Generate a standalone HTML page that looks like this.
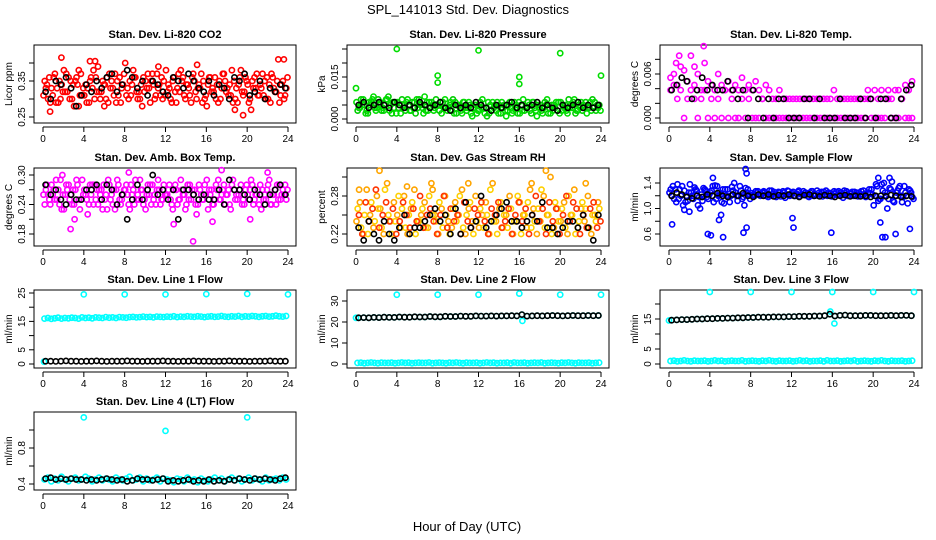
<!DOCTYPE html>
<html><head><meta charset="utf-8"><title>SPL_141013 Std. Dev. Diagnostics</title>
<style>
html,body{margin:0;padding:0;background:#fff;}
svg{display:block;font-family:"Liberation Sans",sans-serif;}
</style></head>
<body>
<svg id="chart" width="936" height="540" viewBox="0 0 936 540" xmlns="http://www.w3.org/2000/svg">
<text x="468" y="14" text-anchor="middle" font-size="13">SPL_141013  Std. Dev. Diagnostics</text>
<text x="467" y="531" text-anchor="middle" font-size="13">Hour of Day (UTC)</text>
</svg>
<script>
// ---------- data ----------
const xTicks=[0,4,8,12,16,20,24];
const panelTitles=["Stan. Dev. Li-820 CO2","Stan. Dev. Li-820 Pressure","Stan. Dev. Li-820 Temp.","Stan. Dev. Amb. Box Temp.","Stan. Dev. Gas Stream RH","Stan. Dev. Sample Flow","Stan. Dev. Line 1 Flow","Stan. Dev. Line 2 Flow","Stan. Dev. Line 3 Flow","Stan. Dev. Line 4 (LT) Flow"];
const yTitles=["Licor ppm","kPa","degrees C","degrees C","percent","ml/min","ml/min","ml/min","ml/min","ml/min"];
const yTickVals=[[0.25,0.30,0.35,0.40],[0,0.005,0.01,0.015,0.02,0.025],[0,0.002,0.004,0.006,0.008],[0.18,0.21,0.24,0.27,0.30],[0.22,0.25,0.28,0.31],[0.6,0.8,1.0,1.2,1.4],[0,5,10,15,20,25],[0,10,20,30],[0,5,10,15,20],[0.4,0.6,0.8,1.0]];
const yTickLabels=[["0.25","","0.35",""],["0.000","","","0.015","",""],["0.000","","","0.006",""],["0.18","","0.24","","0.30"],["0.22","","0.28",""],["0.6","","1.0","","1.4"],["0","5","","15","","25"],["0","10","20","30"],["0","5","","15",""],["0.4","","0.8",""]];

const co2Red1=[0.31,0.34,0.29,0.36,0.33,0.30,0.38,0.32,0.35,0.28,0.34,0.37,0.31,0.33,0.36,0.30,0.39,0.32,0.34,0.29,0.35,0.37,0.31,0.33,0.40,0.30,0.34,0.36,0.32,0.28,0.35,0.33,0.37,0.31,0.34,0.30,0.38,0.33,0.35,0.29,0.32,0.36,0.34,0.31,0.37,0.30,0.33,0.35,0.28,0.36,0.32,0.34,0.30,0.37,0.33,0.31,0.35,0.29,0.38,0.32,0.34,0.27,0.36,0.31,0.33,0.35,0.30,0.37,0.32,0.41,0.34,0.31];
const co2Red2=[0.35,0.30,0.33,0.37,0.29,0.34,0.32,0.36,0.30,0.35,0.38,0.31,0.34,0.29,0.33,0.36,0.32,0.35,0.30,0.37,0.33,0.29,0.36,0.34,0.31,0.35,0.38,0.32,0.30,0.36,0.33,0.29,0.34,0.37,0.31,0.35,0.32,0.30,0.36,0.33,0.38,0.31,0.34,0.29,0.35,0.33,0.37,0.30,0.34,0.32,0.36,0.29,0.33,0.35,0.31,0.38,0.30,0.34,0.32,0.36,0.29,0.35,0.33,0.31,0.37,0.30,0.34,0.36,0.32,0.29,0.35,0.33];
const co2Red3=[0.33,0.36,0.31,0.29,0.35,0.32,0.37,0.30,0.34,0.36,0.31,0.33,0.29,0.35,0.38,0.32,0.30,0.34,0.36,0.33,0.31,0.35,0.29,0.37,0.33,0.31,0.36,0.30,0.34,0.32,0.37,0.35,0.30,0.33,0.36,0.31,0.34,0.29,0.32,0.37,0.35,0.30,0.33,0.36,0.32,0.34,0.29,0.31,0.36,0.33,0.30,0.35,0.37,0.32,0.34,0.29,0.33,0.36,0.31,0.35,0.30,0.33,0.37,0.34,0.31,0.36,0.29,0.33,0.35,0.31,0.30,0.36];
const co2RedExtraHours=[1.8,4.6,5.1,19.6,23.6,0.7,18.8,3.5,6.0,11.3,15.1];
const co2RedExtraVals=[0.415,0.405,0.405,0.255,0.41,0.265,0.27,0.28,0.28,0.39,0.395];
const co2Black=[0.32,0.30,0.35,0.34,0.36,0.33,0.28,0.31,0.34,0.32,0.35,0.33,0.36,0.37,0.32,0.34,0.38,0.36,0.33,0.35,0.31,0.35,0.34,0.32,0.31,0.36,0.35,0.33,0.37,0.35,0.33,0.32,0.35,0.31,0.34,0.33,0.30,0.36,0.35,0.37,0.31,0.32,0.35,0.30,0.33,0.32,0.34,0.33];

const pressGreen1=[0.006,0.004,0.007,0.003,0.005,0.008,0.004,0.006,0.003,0.007,0.005,0.004,0.006,0.002,0.005,0.007,0.003,0.006,0.004,0.005,0.008,0.003,0.006,0.004,0.005,0.002,0.007,0.004,0.003,0.006,0.005,0.002,0.004,0.006,0.001,0.005,0.003,0.007,0.004,0.002,0.006,0.003,0.005,0.004,0.001,0.006,0.003,0.005,0.002,0.007,0.004,0.003,0.006,0.001,0.005,0.004,0.007,0.002,0.005,0.003,0.006,0.004,0.002,0.005,0.007,0.003,0.006,0.004,0.005,0.003,0.006,0.004];
const pressGreen2=[0.003,0.007,0.005,0.002,0.006,0.004,0.007,0.003,0.005,0.008,0.002,0.006,0.004,0.007,0.003,0.005,0.006,0.002,0.007,0.004,0.003,0.006,0.005,0.007,0.003,0.006,0.004,0.005,0.007,0.002,0.004,0.006,0.003,0.005,0.004,0.002,0.006,0.004,0.001,0.005,0.004,0.006,0.002,0.005,0.003,0.004,0.006,0.002,0.005,0.003,0.006,0.002,0.004,0.005,0.003,0.006,0.002,0.005,0.004,0.006,0.003,0.005,0.007,0.004,0.002,0.005,0.003,0.006,0.004,0.007,0.003,0.005];
const pressGreen3=[0.004,0.005,0.002,0.006,0.007,0.003,0.005,0.004,0.007,0.003,0.006,0.002,0.005,0.004,0.006,0.003,0.004,0.007,0.005,0.002,0.006,0.004,0.003,0.005,0.006,0.004,0.003,0.006,0.002,0.005,0.003,0.006,0.004,0.002,0.005,0.003,0.004,0.002,0.006,0.003,0.005,0.002,0.006,0.003,0.005,0.002,0.004,0.006,0.003,0.004,0.005,0.006,0.003,0.004,0.002,0.005,0.004,0.003,0.006,0.002,0.005,0.003,0.004,0.006,0.003,0.004,0.005,0.002,0.006,0.004,0.005,0.003];
const pressExtraHours=[4,12,20,8,8,16,16,0,24];
const pressExtraVals=[0.025,0.0245,0.0235,0.0155,0.013,0.015,0.0125,0.011,0.0155];
const pressBlack=[0.005,0.006,0.004,0.005,0.006,0.005,0.004,0.006,0.005,0.004,0.005,0.004,0.006,0.005,0.004,0.005,0.006,0.004,0.003,0.005,0.004,0.005,0.004,0.006,0.005,0.004,0.003,0.005,0.004,0.005,0.006,0.004,0.005,0.004,0.005,0.006,0.004,0.005,0.004,0.003,0.005,0.004,0.005,0.006,0.004,0.005,0.004,0.005];

const tempMagA=[0.0055,0.006,0.0045,0.007,0.0065,0.005,0.0085,0.0045,0.006,0.0038,0.0075,0.005,0.0045,0.0038,0.006,0.0045,0.0038,0.005,0.0038,0.0045,0.0038,0.0055,0.0038,0.0045,0.0038,0.005,0.0038,0.0026,0.0045,0.0038,0.0026,0.0026,0.0038,0.0026,0.0026,0.0026,0.0026,0.0026,0.0026,0.0026,0.0026,0.0026,0.0026,0.0026,0.0026,0.0026,0.0026,0.0026,0.0038,0.0026,0.0026,0.0026,0.0026,0.0026,0.0026,0.0026,0.0026,0.0026,0.0038,0.0026,0.0038,0.0026,0.0038,0.0026,0.0038,0.0026,0.0038,0.0038,0.0026,0.0045,0.0038,0.005];
const tempMagB=[0.0038,0.0045,0.0026,0.0038,0,0.0026,0.0038,0.0026,0,0.0026,0.0038,0,0.0026,0,0.0026,0,0.0038,0,0.0026,0,0,0.0026,0,0.0026,0,0,0,0.0026,0,0,0,0,0,0,0,0,0,0,0,0,0,0,0,0,0,0,0,0,0,0,0,0,0,0,0,0,0,0,0.0026,0,0,0,0,0,0.0026,0,0,0,0.0026,0,0,0];
const tempExtraHours=[1.0,3.4,2.5,0.7];
const tempExtraVals=[0.0085,0.0098,0.007,0.0075];
const tempBlack=[0.0038,0.0045,0.0055,0.005,0.0026,0.0038,0.0055,0.0038,0.0045,0.0038,0.0038,0.005,0.0038,0.0026,0.0038,0,0.0038,0.0026,0,0.0026,0,0.0026,0.0026,0,0,0,0.0026,0.0026,0,0.0026,0,0,0,0.0026,0,0,0,0.0026,0,0.0026,0,0.0026,0.0026,0,0,0.0026,0.0038,0.0045];

const boxMagA=[0.26,0.28,0.24,0.27,0.25,0.29,0.23,0.27,0.26,0.24,0.28,0.25,0.27,0.22,0.26,0.28,0.24,0.27,0.25,0.29,0.26,0.23,0.28,0.25,0.27,0.24,0.26,0.29,0.25,0.27,0.23,0.26,0.28,0.24,0.27,0.25,0.26,0.28,0.23,0.27,0.25,0.26,0.24,0.28,0.26,0.22,0.27,0.25,0.29,0.26,0.24,0.27,0.25,0.28,0.26,0.23,0.27,0.25,0.28,0.24,0.26,0.29,0.25,0.27,0.23,0.26,0.28,0.24,0.27,0.25,0.26,0.28];
const boxMagB=[0.24,0.26,0.28,0.25,0.27,0.23,0.26,0.28,0.24,0.27,0.25,0.29,0.26,0.24,0.28,0.25,0.27,0.23,0.26,0.28,0.24,0.27,0.25,0.26,0.28,0.23,0.27,0.25,0.29,0.24,0.26,0.28,0.25,0.27,0.24,0.28,0.26,0.25,0.27,0.24,0.29,0.26,0.28,0.25,0.27,0.24,0.26,0.28,0.23,0.27,0.25,0.29,0.26,0.24,0.27,0.28,0.25,0.26,0.24,0.27,0.25,0.28,0.26,0.24,0.27,0.25,0.29,0.26,0.24,0.28,0.27,0.25];
const boxMag3=[0.27,0.25,0.26,0.29,0.24,0.26,0.28,0.25,0.27,0.29,0.23,0.26,0.25,0.28,0.24,0.27,0.26,0.28,0.23,0.25,0.27,0.29,0.24,0.27,0.26,0.28,0.24,0.26,0.27,0.25,0.28,0.24,0.26,0.29,0.25,0.26,0.27,0.24,0.28,0.25,0.27,0.23,0.25,0.27,0.24,0.28,0.25,0.26,0.27,0.24,0.28,0.25,0.27,0.26,0.24,0.29,0.26,0.27,0.25,0.28,0.27,0.24,0.26,0.28,0.25,0.27,0.24,0.26,0.28,0.25,0.26,0.27];
const boxExtraHours=[2.7,14.7,17.5,20.3,8.4,22.0,1.9,12.8,3.1,16.6];
const boxExtraVals=[0.19,0.165,0.31,0.21,0.305,0.305,0.30,0.20,0.21,0.205];
const boxBlack=[0.28,0.26,0.27,0.25,0.24,0.26,0.25,0.25,0.27,0.27,0.28,0.25,0.28,0.27,0.24,0.26,0.21,0.25,0.28,0.25,0.27,0.30,0.26,0.27,0.25,0.27,0.21,0.27,0.27,0.26,0.25,0.26,0.25,0.25,0.27,0.24,0.29,0.27,0.27,0.26,0.25,0.27,0.26,0.24,0.26,0.27,0.28,0.26];

const rhOrangeA=[0.24,0.27,0.22,0.29,0.25,0.23,0.28,0.26,0.22,0.30,0.24,0.27,0.25,0.23,0.28,0.22,0.26,0.29,0.24,0.25,0.27,0.23,0.30,0.25,0.22,0.26,0.28,0.24,0.23,0.27,0.25,0.29,0.22,0.26,0.24,0.28,0.23,0.25,0.27,0.22,0.30,0.24,0.26,0.23,0.25,0.28,0.22,0.24,0.27,0.25,0.23,0.29,0.26,0.22,0.24,0.28,0.25,0.31,0.23,0.26,0.24,0.27,0.22,0.25,0.29,0.23,0.26,0.24,0.28,0.22,0.25,0.27];
const rhOrangeB=[0.26,0.23,0.25,0.22,0.27,0.24,0.26,0.23,0.29,0.25,0.22,0.24,0.28,0.26,0.23,0.25,0.27,0.22,0.24,0.26,0.23,0.28,0.25,0.24,0.27,0.23,0.25,0.22,0.26,0.24,0.28,0.23,0.25,0.27,0.22,0.24,0.26,0.23,0.25,0.29,0.24,0.22,0.27,0.25,0.23,0.26,0.24,0.28,0.22,0.25,0.27,0.23,0.24,0.26,0.29,0.23,0.25,0.22,0.27,0.24,0.26,0.23,0.28,0.25,0.22,0.24,0.27,0.26,0.23,0.25,0.24,0.26];
const rhOrange3=[0.25,0.22,0.27,0.24,0.26,0.29,0.23,0.25,0.27,0.24,0.26,0.22,0.24,0.27,0.25,0.23,0.26,0.24,0.28,0.23,0.25,0.26,0.24,0.22,0.25,0.28,0.23,0.26,0.24,0.25,0.22,0.27,0.24,0.23,0.26,0.25,0.27,0.24,0.22,0.26,0.25,0.27,0.23,0.24,0.26,0.22,0.25,0.27,0.24,0.26,0.22,0.25,0.28,0.24,0.26,0.22,0.27,0.24,0.26,0.22,0.25,0.28,0.24,0.27,0.26,0.22,0.25,0.23,0.26,0.27,0.23,0.24];
const rhExtraHours=[2.3,18.6,0.3,11.0,17.2,5.0,7.5,22.5];
const rhExtraVals=[0.32,0.32,0.29,0.30,0.30,0.295,0.29,0.30];
const rhBlack=[0.23,0.21,0.24,0.22,0.21,0.24,0.22,0.21,0.23,0.25,0.22,0.23,0.23,0.24,0.25,0.26,0.24,0.25,0.22,0.26,0.22,0.27,0.23,0.24,0.28,0.23,0.24,0.25,0.26,0.27,0.24,0.24,0.23,0.24,0.25,0.24,0.27,0.23,0.23,0.22,0.23,0.24,0.24,0.23,0.25,0.23,0.21,0.25];

const flowBlueA=[1.25,1.35,1.1,1.3,1.05,1.2,1.38,1.15,1.28,1.0,1.32,1.18,1.25,1.1,1.35,1.22,1.08,1.3,1.2,1.4,1.12,1.28,1.05,1.3,1.24,1.2,1.27,1.22,1.25,1.18,1.28,1.2,1.26,1.22,1.17,1.27,1.24,1.2,1.28,1.22,1.25,1.18,1.27,1.21,1.25,1.19,1.28,1.23,1.2,1.26,1.22,1.17,1.27,1.24,1.2,1.25,1.22,1.28,1.19,1.24,1.05,1.35,1.15,1.4,1.0,1.3,1.1,1.28,1.2,1.35,1.08,1.25];
const flowBlueB=[1.3,1.15,1.38,1.2,1.28,1.12,1.25,1.33,1.05,1.22,1.3,1.15,1.28,1.36,1.2,1.1,1.3,1.18,1.34,1.25,1.2,1.15,1.32,1.22,1.2,1.27,1.22,1.25,1.2,1.28,1.23,1.18,1.25,1.27,1.22,1.2,1.26,1.23,1.19,1.27,1.22,1.25,1.2,1.28,1.22,1.26,1.2,1.24,1.27,1.21,1.25,1.28,1.2,1.23,1.26,1.19,1.27,1.23,1.25,1.3,1.2,1.12,1.38,1.25,1.15,1.42,1.2,1.32,1.1,1.25,1.3,1.18];
const flowBlue3=[1.2,1.3,1.15,1.35,1.1,1.25,1.2,1.3,1.18,1.12,1.28,1.22,1.35,1.15,1.25,1.3,1.2,1.1,1.28,1.2,1.35,1.18,1.25,1.15,1.22,1.25,1.2,1.27,1.23,1.2,1.26,1.22,1.19,1.25,1.28,1.22,1.2,1.26,1.22,1.24,1.19,1.27,1.23,1.2,1.26,1.22,1.25,1.19,1.23,1.27,1.21,1.24,1.2,1.26,1.22,1.25,1.2,1.18,1.3,1.22,1.38,1.15,1.28,1.2,1.32,1.12,1.25,1.35,1.18,1.2,1.28,1.15];
const flowExtraHours=[0.3,3.8,4.1,5.3,7.3,7.6,7.6,7.5,12.2,12.1,15.9,20.9,21.2,22.2,23.6,20.7,5.1,4.9,4.3,20.5,21.6,2.0,1.5];
const flowExtraVals=[0.75,0.6,0.58,0.55,0.62,0.7,1.55,1.62,0.7,0.85,0.62,0.55,0.55,0.6,0.68,0.78,0.9,0.82,1.48,1.48,1.48,0.95,0.98];
const flowBlack=[1.2,1.25,1.22,1.18,1.16,1.2,1.18,1.22,1.2,1.24,1.2,1.18,1.22,1.2,1.24,1.2,1.18,1.22,1.2,1.22,1.19,1.21,1.2,1.22,1.2,1.18,1.21,1.22,1.2,1.19,1.21,1.2,1.18,1.2,1.21,1.19,1.2,1.19,1.2,1.18,1.2,1.2,1.19,1.21,1.2,1.18,1.2,1.19];

const line1Cyan=[16.0,16.2,15.9,16.1,16.3,16.0,16.2,16.1,16.3,16.2,16.0,16.4,16.2,16.3,16.1,16.4,16.3,16.2,16.5,16.3,16.4,16.2,16.5,16.4,16.3,16.5,16.6,16.4,16.5,16.7,16.5,16.6,16.4,16.7,16.6,16.5,16.7,16.6,16.8,16.5,16.7,16.6,16.8,16.7,16.6,16.8,16.7,16.5,16.7,16.8,16.6,16.7,16.9,16.7,16.6,16.8,16.7,16.9,16.6,16.8,16.7,16.9,16.8,16.6,16.8,16.9,16.7,16.8,17.0,16.8,16.7,16.9];
const line1ExtraHours=[0.1,4,8,12,16,20,24];
const line1ExtraVals=[0.8,24.5,24.5,24.5,24.6,24.7,24.5];
const line1Black=[1.0,1.0,0.9,1.0,1.1,1.0,1.0,0.9,1.0,1.0,1.1,1.0,0.9,1.0,1.0,1.0,1.1,1.0,1.0,0.9,1.0,1.0,1.0,1.1,1.0,1.0,0.9,1.0,1.0,1.1,1.0,1.0,1.0,0.9,1.0,1.0,1.1,1.0,1.0,1.0,0.9,1.0,1.0,1.0,1.1,1.0,1.0,1.0];

const line2Cyan=[0.5,0.6,0.4,0.5,0.7,0.5,0.4,0.6,0.5,0.5,0.6,0.4,0.5,0.7,0.5,0.6,0.4,0.5,0.6,0.5,0.5,0.7,0.4,0.5,0.6,0.5,0.4,0.6,0.5,0.7,0.5,0.4,0.6,0.5,0.5,0.6,0.4,0.5,0.7,0.5,0.6,0.4,0.5,0.5,0.6,0.4,0.7,0.5,0.5,0.6,0.4,0.5,0.6,0.5,0.7,0.4,0.5,0.6,0.5,0.4,0.6,0.5,0.7,0.5,0.4,0.6,0.5,0.5,0.6,0.4,0.5,0.6];
const line2ExtraHours=[0.0,4,8,12,16,20,24,16.3];
const line2ExtraVals=[22.0,33,33,33,33.5,33,33,20.5];
const line2Black=[22.0,22.1,22.0,22.2,22.1,22.3,22.2,22.2,22.4,22.3,22.3,22.5,22.4,22.4,22.6,22.5,22.5,22.7,22.6,22.6,22.8,22.7,22.7,22.9,22.8,22.8,22.9,22.8,22.9,22.9,23.0,22.9,23.5,22.8,22.9,23.0,22.9,23.0,23.1,23.0,22.9,23.0,23.1,23.0,23.0,23.1,23.0,23.1];

const line3Cyan=[1.0,1.1,0.9,1.0,1.2,1.0,0.9,1.1,1.0,1.0,1.1,0.9,1.0,1.2,1.0,1.1,0.9,1.0,1.1,1.0,1.0,1.2,0.9,1.0,1.1,1.0,0.9,1.1,1.0,1.2,1.0,0.9,1.1,1.0,1.0,1.1,0.9,1.0,1.2,1.0,1.1,0.9,1.0,1.0,1.1,0.9,1.2,1.0,1.0,1.1,0.9,1.0,1.1,1.0,1.2,0.9,1.0,1.1,1.0,0.9,1.1,1.0,1.2,1.0,0.9,1.1,1.0,1.0,1.1,0.9,1.0,1.1];
const line3ExtraHours=[0.0,4,8,12,16,20,24,15.8,16.2];
const line3ExtraVals=[14.5,24,24,24,24,24,24,17.5,13.5];
const line3Black=[14.6,14.7,14.8,14.8,14.9,15.0,15.0,15.1,15.1,15.2,15.2,15.3,15.3,15.4,15.4,15.5,15.5,15.6,15.6,15.6,15.7,15.7,15.7,15.8,15.8,15.9,15.9,15.9,16.0,16.0,16.1,16.6,16.0,16.2,16.3,16.1,16.1,16.1,16.2,16.2,16.1,16.1,16.1,16.2,16.1,16.2,16.2,16.1];

const line4Cyan=[0.45,0.47,0.43,0.46,0.44,0.48,0.45,0.43,0.46,0.47,0.44,0.45,0.48,0.46,0.43,0.45,0.47,0.44,0.46,0.45,0.43,0.47,0.45,0.44,0.46,0.48,0.44,0.45,0.47,0.43,0.46,0.44,0.45,0.47,0.43,0.46,0.45,0.44,0.42,0.46,0.45,0.43,0.47,0.44,0.45,0.42,0.46,0.44,0.43,0.45,0.47,0.44,0.46,0.43,0.45,0.47,0.44,0.46,0.43,0.45,0.47,0.44,0.46,0.45,0.43,0.47,0.44,0.45,0.46,0.44,0.47,0.45];
const line4ExtraHours=[4,12,20];
const line4ExtraVals=[1.14,0.99,1.14];
const line4Black=[0.46,0.47,0.45,0.46,0.45,0.46,0.45,0.45,0.44,0.45,0.44,0.45,0.46,0.45,0.44,0.45,0.43,0.44,0.46,0.45,0.45,0.44,0.45,0.46,0.43,0.44,0.43,0.44,0.45,0.43,0.44,0.43,0.45,0.43,0.44,0.43,0.45,0.44,0.46,0.45,0.44,0.46,0.45,0.46,0.45,0.44,0.46,0.47];

// ---------- layout ----------
const colLeft=[34,347,660], boxW=262;
const rowTop=[45,168,290,412], boxH=78;
const cal=[[0.25,117,0.35,81],[0,119,0.015,77],[0,118,0.006,74],[0.18,234,0.30,175],[0.22,234,0.28,196],[0.6,234,1.4,183],[0,364,25,293],[0,364,30,301],[0,364,15,319],[0.4,484,0.8,448]];
const NS="http://www.w3.org/2000/svg";
const svg=document.getElementById('chart');
function mk(tag,attrs,parent){const e=document.createElementNS(NS,tag);for(const k in attrs)e.setAttribute(k,attrs[k]);(parent||svg).appendChild(e);return e;}

// [values, colour, count, x-offset within 20-min slot]
const panelSeries=[
 [[co2Red1,'#ff0000',72,0.05],[co2Red2,'#ff0000',72,0.17],[co2Red3,'#ff0000',72,0.28],[[co2RedExtraHours,co2RedExtraVals],'#ff0000'],[co2Black,'#000',48]],
 [[pressGreen1,'#00dd00',72,0.05],[pressGreen2,'#00cc00',72,0.17],[pressGreen3,'#00dd00',72,0.28],[[pressExtraHours,pressExtraVals],'#00dd00'],[pressBlack,'#000',48]],
 [[tempMagA,'#ff00ff',72,0.15],[tempMagB,'#ff00ff',72,0.15],[[tempExtraHours,tempExtraVals],'#ff00ff'],[tempBlack,'#000',48]],
 [[boxMagA,'#ff00ff',72,0.05],[boxMagB,'#ff00ff',72,0.17],[boxMag3,'#ff00ff',72,0.28],[[boxExtraHours,boxExtraVals],'#ff00ff'],[boxBlack,'#000',48]],
 [[rhOrangeA,'#ffa500',72,0.05],[rhOrangeB,'#ffd000',72,0.17],[rhOrange3,'#ff3300',72,0.28],[[rhExtraHours,rhExtraVals],'#ffa500'],[rhBlack,'#000',48]],
 [[flowBlueA,'#0000ff',72,0.05],[flowBlueB,'#0000ee',72,0.17],[flowBlue3,'#0000ff',72,0.28],[[flowExtraHours,flowExtraVals],'#0000ff'],[flowBlack,'#000',48]],
 [[line1Cyan,'#00ffff',72,0.15],[[line1ExtraHours,line1ExtraVals],'#00ffff'],[line1Black,'#000',48]],
 [[line2Cyan,'#00ffff',72,0.15],[line2Black,'#00ffff',48],[[line2ExtraHours,line2ExtraVals],'#00ffff'],[line2Black,'#000',48]],
 [[line3Cyan,'#00ffff',72,0.15],[line3Black,'#00ffff',48],[[line3ExtraHours,line3ExtraVals],'#00ffff'],[line3Black,'#000',48]],
 [[line4Cyan,'#00ffff',72,0.15],[[line4ExtraHours,line4ExtraVals],'#00ffff'],[line4Black,'#000',48]]
];

for(let p=0;p<10;p++){
  const col=p%3,row=Math.floor(p/3);
  const L=colLeft[col],T=rowTop[row],B=T+boxH,R=L+boxW;
  const x0=L+9,x24=R-8;
  const xs=h=>x0+h*(x24-x0)/24;
  const c=cal[p];
  const ys=v=>c[1]+(v-c[0])*(c[3]-c[1])/(c[2]-c[0]);
  const g=mk('g',{});
  
  
  const t=mk('text',{x:(L+R)/2,y:T-7,'text-anchor':'middle','font-size':'11','font-weight':'bold'},g);
  t.textContent=panelTitles[p];
  
  
  const box=mk('rect',{x:L,y:T,width:boxW,height:boxH,fill:'none',stroke:'#000','stroke-width':1},g);
  
  
  const xa=mk('g',{},g);
  
  
  mk('line',{x1:xs(0),x2:xs(24),y1:B+4,y2:B+4,stroke:'#000'},xa);
  xTicks.forEach(h=>{
    mk('line',{x1:xs(h),x2:xs(h),y1:B+4,y2:B+9,stroke:'#000'},xa);
    const lt=mk('text',{x:xs(h),y:B+19,'text-anchor':'middle','font-size':'10'},xa);
    lt.textContent=h;
    
    
  });
  const ya=mk('g',{},g);
  
  
  const tv=yTickVals[p];
  const tvIn=tv.filter(v=>ys(v)>=T-2&&ys(v)<=B+2);
  mk('line',{x1:L,x2:L,y1:ys(tvIn[0]),y2:ys(tvIn[tvIn.length-1]),stroke:'#000'},ya);
  tv.forEach((v,i)=>{
    const y=ys(v); if(y<T-2||y>B+2) return;
    mk('line',{x1:L-5,x2:L,y1:y,y2:y,stroke:'#000'},ya);
    if(yTickLabels[p][i]){
      const yl=mk('text',{x:L-9,y:y,'text-anchor':'middle','font-size':'10',transform:`rotate(-90 ${L-9} ${y})`},ya);
      yl.textContent=yTickLabels[p][i];
      
      
    }
  });
  const yt=mk('text',{x:L-22,y:(T+B)/2,'text-anchor':'middle','font-size':'10',transform:`rotate(-90 ${L-22} ${(T+B)/2})`},g);
  yt.textContent=yTitles[p];
  
  
  panelSeries[p].forEach((s,si)=>{
    const sg=mk('g',{fill:'none',stroke:s[1],'stroke-width':1.6},g);
    
    
    let pts=[];
    if(Array.isArray(s[0][0])){ s[0][0].forEach((h,i)=>pts.push([h,s[0][1][i]])); }
    else { const n=s[2], off=(s[3]===undefined?0.15:s[3]); s[0].forEach((v,i)=>pts.push([n===72?i/3+off:i/2+0.25,v])); }
    pts.forEach(pt=>{
      const ci=mk('circle',{cx:xs(pt[0]).toFixed(1),cy:ys(pt[1]).toFixed(1),r:2.6},sg);
      
      
    });
  });
}
</script>
</body></html>
